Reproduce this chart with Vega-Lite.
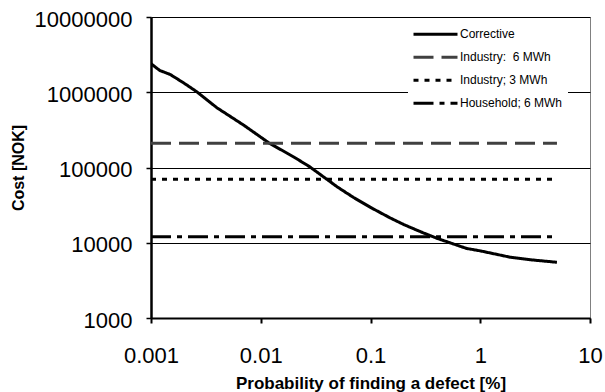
{
  "$schema": "https://vega.github.io/schema/vega-lite/v6.json",
  "width": 439,
  "height": 301,
  "autosize": {"type": "none"},
  "padding": {"left": 151, "top": 17, "right": 15, "bottom": 74},
  "background": "white",
  "config": {
    "font": "Liberation Sans",
    "view": {"stroke": "#808080", "strokeWidth": 1}
  },
  "data": {
    "values": [
      {"series": "Corrective", "p": 0.001, "cost": 2400000},
      {"series": "Corrective", "p": 0.0012, "cost": 1950000},
      {"series": "Corrective", "p": 0.0015, "cost": 1720000},
      {"series": "Corrective", "p": 0.002, "cost": 1320000},
      {"series": "Corrective", "p": 0.0026, "cost": 1020000},
      {"series": "Corrective", "p": 0.004, "cost": 620000},
      {"series": "Corrective", "p": 0.007, "cost": 365000},
      {"series": "Corrective", "p": 0.012, "cost": 210000},
      {"series": "Corrective", "p": 0.02, "cost": 138000},
      {"series": "Corrective", "p": 0.028, "cost": 102000},
      {"series": "Corrective", "p": 0.05, "cost": 55000},
      {"series": "Corrective", "p": 0.07, "cost": 40000},
      {"series": "Corrective", "p": 0.1, "cost": 29500},
      {"series": "Corrective", "p": 0.15, "cost": 21500},
      {"series": "Corrective", "p": 0.2, "cost": 17500},
      {"series": "Corrective", "p": 0.3, "cost": 13600},
      {"series": "Corrective", "p": 0.4, "cost": 11500},
      {"series": "Corrective", "p": 0.75, "cost": 8400},
      {"series": "Corrective", "p": 1, "cost": 7800},
      {"series": "Corrective", "p": 1.9, "cost": 6400},
      {"series": "Corrective", "p": 3, "cost": 5900},
      {"series": "Corrective", "p": 5, "cost": 5500},
      {"series": "Industry:\u00a0 6 MWh", "p": 0.001, "cost": 210000},
      {"series": "Industry:\u00a0 6 MWh", "p": 5, "cost": 210000},
      {"series": "Industry; 3 MWh", "p": 0.001, "cost": 70000},
      {"series": "Industry; 3 MWh", "p": 5, "cost": 70000},
      {"series": "Household; 6 MWh", "p": 0.001, "cost": 12000},
      {"series": "Household; 6 MWh", "p": 5, "cost": 12000}
    ]
  },
  "mark": {"type": "line", "strokeWidth": 3, "clip": true},
  "encoding": {
    "x": {
      "field": "p",
      "type": "quantitative",
      "scale": {"type": "log", "domain": [0.001, 10], "nice": false},
      "axis": {
        "values": [0.001, 0.01, 0.1, 1, 10],
        "format": "~g",
        "grid": false,
        "title": "Probability of finding a defect [%]",
        "titleFontSize": 17,
        "titleFontWeight": "bold",
        "titleColor": "black",
        "titleY": 70,
        "titleBaseline": "alphabetic",
        "labelFontSize": 22,
        "labelColor": "black",
        "labelBaseline": "alphabetic",
        "labelPadding": 39,
        "labelFlush": false,
        "labelOverlap": false,
        "tickColor": "black",
        "tickSize": 5,
        "tickWidth": 2,
        "domainColor": "black",
        "domainWidth": 2
      }
    },
    "y": {
      "field": "cost",
      "type": "quantitative",
      "scale": {"type": "log", "domain": [1000, 10000000], "nice": false},
      "axis": {
        "values": [1000, 10000, 100000, 1000000, 10000000],
        "format": "d",
        "grid": true,
        "gridColor": "black",
        "gridWidth": 1,
        "title": "Cost [NOK]",
        "titleFontSize": 16,
        "titleFontWeight": "bold",
        "titleColor": "black",
        "titleAngle": -90,
        "titleX": -128,
        "titleY": 150.5,
        "titleAlign": "center",
        "titleBaseline": "alphabetic",
        "labelFontSize": 22,
        "labelColor": "black",
        "labelPadding": 14,
        "labelOffset": 2,
        "labelFlush": false,
        "labelOverlap": false,
        "tickColor": "black",
        "tickSize": 5,
        "tickWidth": 1.5,
        "domainColor": "black",
        "domainWidth": 2.5
      }
    },
    "color": {
      "field": "series",
      "type": "nominal",
      "sort": null,
      "scale": {
        "domain": ["Corrective", "Industry:\u00a0 6 MWh", "Industry; 3 MWh", "Household; 6 MWh"],
        "range": ["#000000", "#404040", "#000000", "#000000"]
      },
      "legend": {
        "title": null,
        "orient": "none",
        "legendX": 257,
        "legendY": 1,
        "fillColor": "white",
        "padding": 5,
        "symbolType": "M-2,0H2",
        "symbolSize": 484,
        "symbolStrokeWidth": 3,
        "symbolOffset": 10,
        "labelOffset": 12,
        "labelFontSize": 12,
        "labelColor": "black",
        "clipHeight": 22.5,
        "rowPadding": 0
      }
    },
    "strokeDash": {
      "field": "series",
      "type": "nominal",
      "sort": null,
      "scale": {
        "domain": ["Corrective", "Industry:\u00a0 6 MWh", "Industry; 3 MWh", "Household; 6 MWh"],
        "range": [[1, 0], [20, 8], [5, 6], [20, 6, 5, 6]]
      },
      "legend": {
        "title": null,
        "orient": "none",
        "legendX": 257,
        "legendY": 1,
        "fillColor": "white",
        "padding": 5,
        "symbolType": "M-2,0H2",
        "symbolSize": 484,
        "symbolStrokeWidth": 3,
        "symbolOffset": 10,
        "labelOffset": 12,
        "labelFontSize": 12,
        "labelColor": "black",
        "clipHeight": 22.5,
        "rowPadding": 0
      }
    }
  }
}
